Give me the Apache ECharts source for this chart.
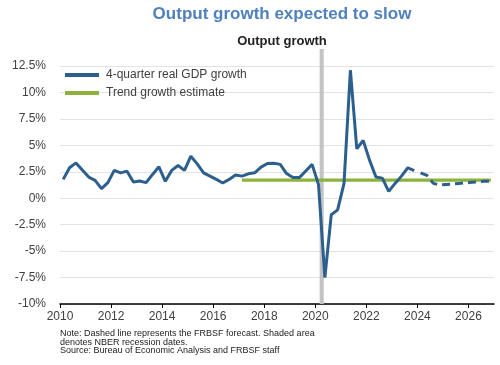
<!DOCTYPE html>
<html>
<head>
<meta charset="utf-8">
<script src="https://cdn.jsdelivr.net/npm/echarts@6/dist/echarts.min.js"></script>
<style>html,body{margin:0;padding:0;background:#fff}#c{width:500px;height:365px}</style>
</head>
<body>
<div id="c"></div>
<script>
// ---- data ----
var quarters = [];
for (var y = 2010; y <= 2026; y++) { for (var q = 1; q <= 4; q++) { quarters.push(y + 'Q' + q); } }

var actualGrowth = [
  1.78, 2.88, 3.34, 2.66,
  2.0, 1.69, 0.9, 1.47,
  2.63, 2.4, 2.56, 1.53,
  1.63, 1.47, 2.25, 2.97,
  1.6, 2.63, 3.09, 2.63,
  3.97, 3.25, 2.4, 2.09,
  1.78, 1.44, 1.78, 2.19,
  2.09, 2.31, 2.4, 2.94,
  3.28, 3.3, 3.2, 2.33,
  1.95, 1.95, 2.58, 3.2,
  1.3, -7.5, -1.56, -1.1,
  1.4, 12.1, 4.68, 5.47,
  3.6, 2.0, 1.9, 0.65,
  1.4, 2.09, 2.88, 2.6
];
var forecastQuarters = ['2024Q1','2024Q2','2024Q3','2024Q4','2025Q1','2025Q2','2025Q3','2025Q4','2026Q1','2026Q2','2026Q3','2026Q4'];
var forecastGrowth = [2.4, 2.15, 1.4, 1.25, 1.3, 1.35, 1.4, 1.45, 1.5, 1.55, 1.6, 1.62];

var trendStart = '2017Q1', trendEnd = '2026Q4', trendValue = 1.72;
var recession = [2020.17, 2020.33];

var yTicks = [-10, -7.5, -5, -2.5, 0, 2.5, 5, 7.5, 10, 12.5];
var xTickYears = [2010, 2012, 2014, 2016, 2018, 2020, 2022, 2024, 2026];

function qx(label) { var p = label.split('Q'); return +p[0] + (+p[1] - 0.5) / 4; }

var actualData = actualGrowth.map(function (v, i) { return [qx(quarters[i]), v]; });
var forecastData = forecastGrowth.map(function (v, i) { return [qx(forecastQuarters[i]), v]; });
var trendData = [[qx(trendStart), trendValue], [qx(trendEnd), trendValue]];

var BLUE = '#2c5f8d', GREEN = '#8bb33c', FONT = 'Liberation Sans, Arial, sans-serif';

var chart = echarts.init(document.getElementById('c'), null, { renderer: 'canvas' });
chart.setOption({
  animation: false,
  title: [
    { text: 'Output growth expected to slow', left: 277, textAlign: 'center', top: 1,
      textStyle: { color: '#4f81bd', fontSize: 17, fontWeight: 'bold', fontFamily: FONT } },
    { text: 'Output growth', left: 277, textAlign: 'center', top: 30,
      textStyle: { color: '#222', fontSize: 13, fontWeight: 'bold', fontFamily: FONT } }
  ],
  grid: { left: 60, right: 6, top: 66, bottom: 61, containLabel: false },
  legend: {
    orient: 'vertical', left: 60, top: 63, itemWidth: 34, itemHeight: 4, itemGap: 4,
    icon: 'rect', data: ['4-quarter real GDP growth', 'Trend growth estimate'],
    textStyle: { fontSize: 12, color: '#404040', fontFamily: FONT, lineHeight: 14, padding: [0, 0, 0, 2] }
  },
  xAxis: {
    type: 'value', min: 2010, max: 2027, interval: 2,
    axisLine: { onZero: false, lineStyle: { color: '#000', width: 1.5 } },
    axisTick: { length: 4, lineStyle: { color: '#000' } },
    splitLine: { show: false },
    axisLabel: { color: '#404040', fontSize: 12, fontFamily: FONT, margin: 7, showMaxLabel: false,
      formatter: function (v) { return xTickYears.indexOf(v) >= 0 ? String(v) : ''; } }
  },
  yAxis: {
    type: 'value', min: -10, max: 12.5, interval: 2.5,
    axisLine: { show: false }, axisTick: { show: false },
    splitLine: { lineStyle: { color: '#e3e3e3', width: 1 } },
    axisLabel: { color: '#404040', fontSize: 12, fontFamily: FONT, margin: 14,
      formatter: function (v) { return yTicks.indexOf(v) >= 0 ? v + '%' : ''; } }
  },
  series: [
    {
      type: 'custom', name: 'recession', clip: false, silent: true, z: 1,
      data: [[recession[0], recession[1]]],
      renderItem: function (params, api) {
        var a = api.coord([api.value(0), -10]);
        var b = api.coord([api.value(1), 14.1]);
        return { type: 'rect', shape: { x: a[0], y: b[1], width: b[0] - a[0], height: a[1] - b[1] },
          style: { fill: '#c3c3c3' } };
      }
    },
    {
      name: 'Trend growth estimate', type: 'line', data: trendData, symbol: 'none', z: 3,
      lineStyle: { color: GREEN, width: 3.2 }, itemStyle: { color: GREEN }
    },
    {
      name: '4-quarter real GDP growth', type: 'line', data: actualData, symbol: 'none', z: 4,
      lineStyle: { color: BLUE, width: 3 }, itemStyle: { color: BLUE }
    },
    {
      name: 'forecast', type: 'line', data: forecastData, symbol: 'none', z: 4,
      lineStyle: { color: BLUE, width: 3, type: [8, 5] }, itemStyle: { color: BLUE }
    }
  ],
  graphic: [
    { type: 'text', left: 60, top: 329, style: {
      text: 'Note: Dashed line represents the FRBSF forecast. Shaded area\ndenotes NBER recession dates.\nSource: Bureau of Economic Analysis and FRBSF staff',
      font: '9px ' + FONT, fill: '#222', lineHeight: 8.6 } }
  ]
});
</script>
</body>
</html>
